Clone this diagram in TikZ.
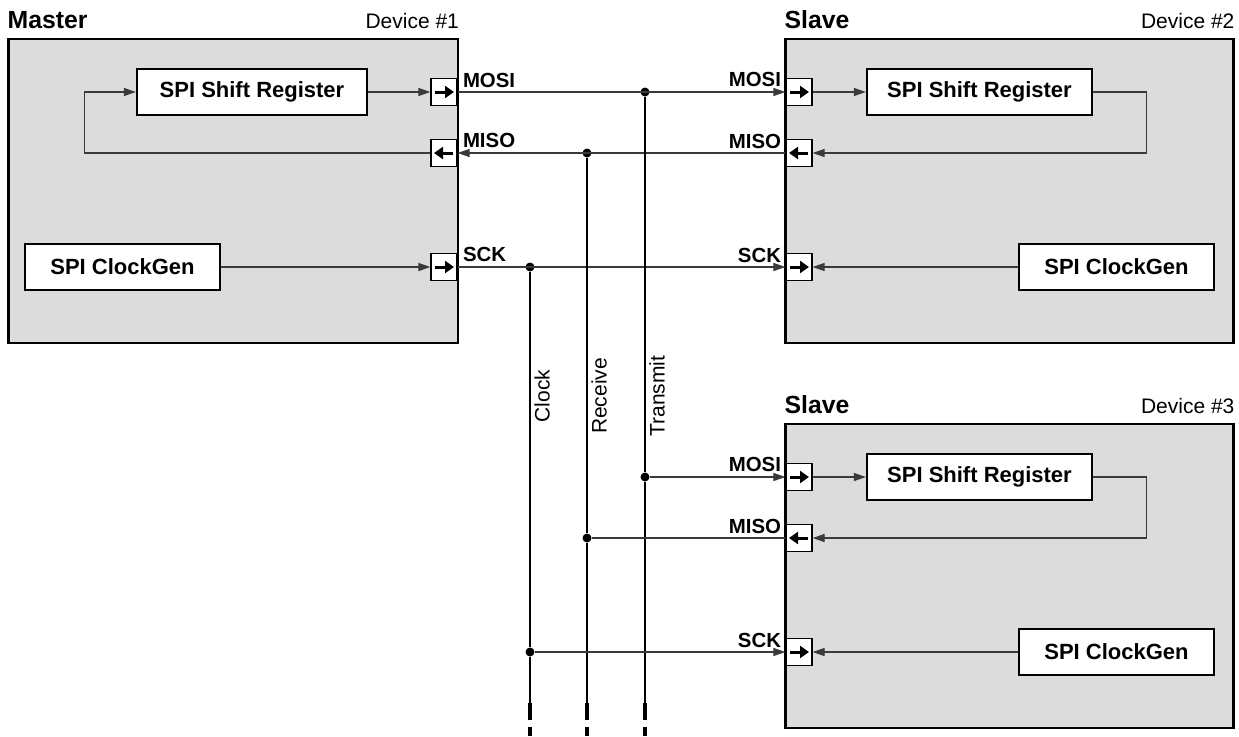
\documentclass[tikz,border=0pt]{standalone}
\usepackage{fontspec}
\setmainfont{Liberation Sans}
\setsansfont{Liberation Sans}
\usetikzlibrary{arrows.meta, positioning}
\definecolor{devgray}{HTML}{DCDCDC}
\definecolor{wiregray}{HTML}{3A3A3A}

\begin{document}
\begin{tikzpicture}[
    x=0.5pt, y=-0.5pt,
    font=\sffamily,
    >={Triangle[length=6pt, width=4pt]},
    device/.style={draw=black, fill=devgray, line width=1.3pt, inner sep=0pt,
                   minimum width=224pt, minimum height=152pt},
    block/.style={draw=black, fill=white, line width=1.1pt, inner sep=0pt,
                  minimum height=23pt, font=\sffamily\bfseries\fontsize{11}{13}\selectfont},
    port/.style={draw=black, fill=white, line width=0.6pt, inner sep=0pt,
                 minimum width=13pt, minimum height=13.5pt},
    portR/.style={port, path picture={
        \draw[draw=black, line width=1.5pt, -{Triangle[length=4.5pt, width=6pt]}]
          ([xshift=2pt]path picture bounding box.west) -- ([xshift=-1.5pt]path picture bounding box.east);}},
    portL/.style={port, path picture={
        \draw[draw=black, line width=1.5pt, -{Triangle[length=4.5pt, width=6pt]}]
          ([xshift=-2pt]path picture bounding box.east) -- ([xshift=1.5pt]path picture bounding box.west);}},
    pinlabel/.style={font=\sffamily\bfseries\fontsize{10.2}{12}\selectfont, inner sep=0pt},
    role/.style={font=\sffamily\bfseries\fontsize{12.4}{14}\selectfont, inner sep=0pt},
    devno/.style={font=\sffamily\fontsize{10.5}{12}\selectfont, inner sep=0pt},
    buslabel/.style={font=\sffamily\fontsize{10.5}{12}\selectfont, rotate=90, anchor=north, inner sep=2pt},
    wire/.style={draw=wiregray, line width=0.55pt},
    bus/.style={draw=black, line width=0.6pt},
    busend/.style={draw=black, line width=2pt, dash pattern=on 8.5pt off 3.5pt},
    dot/.style={circle, fill=black, inner sep=0pt, minimum size=4.5pt}
]
  \useasboundingbox (0,0) rectangle (1239,736);

  % Device #1: Master
  \node[device, minimum width=224.75pt] (master) at (233.25,191) {};
  \node[role, anchor=base west] (mastertitle) at ([yshift=4.5pt]master.north west) {Master};
  \node[devno, anchor=base east] (masterno) at ([yshift=4.5pt]master.north east) {Device \#1};
  \node[block, minimum width=115pt] (mshift) at (252,92) {SPI Shift Register};
  \node[block, minimum width=97.5pt] (mclk) at (122.5,267) {SPI ClockGen};
  \node[portR] (mmosi) at (444,92) {};
  \node[portL] (mmiso) at (444,153) {};
  \node[portR] (msck) at (444,267) {};
  \node[pinlabel, anchor=base west] (mmosilabel) at ([xshift=2.5pt, yshift=2.5pt]mmosi.east) {MOSI};
  \node[pinlabel, anchor=base west] (mmisolabel) at ([xshift=2.5pt, yshift=3pt]mmiso.east) {MISO};
  \node[pinlabel, anchor=base west] (mscklabel) at ([xshift=2.5pt, yshift=3pt]msck.east) {SCK};

  % Devices #2 and #3: Slaves
  \foreach \s/\dy/\n in {sa/0/2, sb/385/3} {
    \node[device] (\s) at (1009.5,191+\dy) {};
    \node[role, anchor=base west] (\s-title) at ([yshift=4.5pt]\s.north west) {Slave};
    \node[devno, anchor=base east] (\s-no) at ([yshift=4.5pt]\s.north east) {Device \#\n};
    \node[block, minimum width=112.5pt] (\s-shift) at (979.5,92+\dy) {SPI Shift Register};
    \node[block, minimum width=97.5pt] (\s-clk) at (1116.5,267+\dy) {SPI ClockGen};
    \node[portR] (\s-mosi) at (799,92+\dy) {};
    \node[portL] (\s-miso) at (799,153+\dy) {};
    \node[portR] (\s-sck) at (799,267+\dy) {};
    \node[pinlabel, anchor=base east] (\s-mosilabel) at ([xshift=-2pt, yshift=3pt]\s-mosi.west) {MOSI};
    \node[pinlabel, anchor=base east] (\s-misolabel) at ([xshift=-2pt, yshift=2.5pt]\s-miso.west) {MISO};
    \node[pinlabel, anchor=base east] (\s-scklabel) at ([xshift=-2pt, yshift=2.5pt]\s-sck.west) {SCK};
    \draw[wire,->] (\s-mosi) -- (\s-shift);
    \draw[wire,->] (\s-shift.east) -- ++(26.5pt,0) |- (\s-miso);
    \draw[wire,->] (\s-clk) -- (\s-sck);
  }

  % Bus junctions
  \node[dot] (tx1) at (645,92) {};
  \node[dot] (rx1) at (587,153) {};
  \node[dot] (ck1) at (530,267) {};
  \node[dot] (tx2) at (645,477) {};
  \node[dot] (rx2) at (587,538) {};
  \node[dot] (ck2) at (530,652) {};
  \coordinate (txend) at (645,703);
  \coordinate (rxend) at (587,703);
  \coordinate (ckend) at (530,703);

  % Master internals
  \draw[wire,->] (mshift) -- (mmosi);
  \draw[wire,->] (mmiso.west) -| ([xshift=-25.5pt]mshift.west) -- (mshift);
  \draw[wire,->] (mclk) -- (msck);

  % Master <-> Device #2
  \draw[wire,->] (mmosi) -- (sa-mosi);
  \draw[wire,->] (sa-miso) -- (mmiso);
  \draw[wire,->] (msck) -- (sa-sck);

  % Shared lines down to Device #3
  \draw[bus] (tx1) -- (tx2) -- (txend);
  \draw[bus] (rx1) -- (rx2) -- (rxend);
  \draw[bus] (ck1) -- (ck2) -- (ckend);
  \foreach \e in {txend, rxend, ckend}
    \draw[busend] (\e) -- ++(0,33);
  \draw[wire,->] (tx2) -- (sb-mosi);
  \draw[wire] (sb-miso) -- (rx2);
  \draw[wire,->] (ck2) -- (sb-sck);

  \node[buslabel] (clklabel) at (530,396) {Clock};
  \node[buslabel] (rxlabel) at (587,396) {Receive};
  \node[buslabel] (txlabel) at (645,396) {Transmit};
\end{tikzpicture}
\end{document}
